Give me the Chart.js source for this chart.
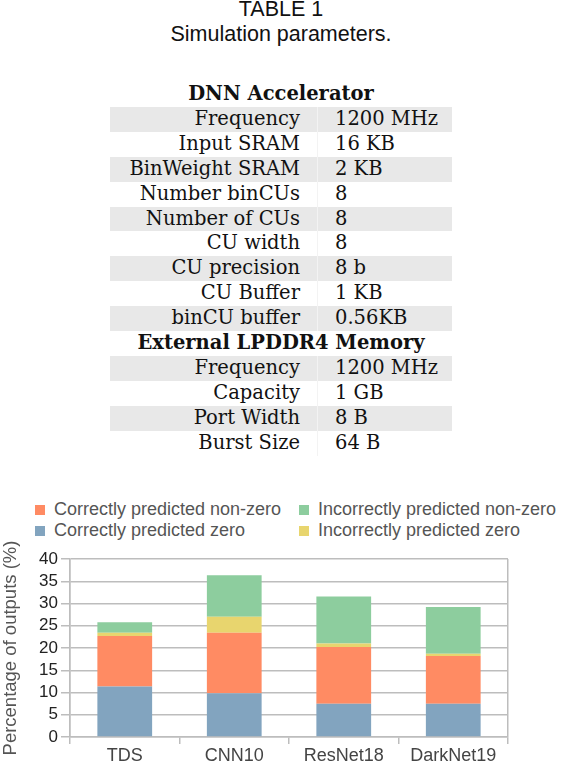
<!DOCTYPE html>
<html>
<head>
<meta charset="utf-8">
<script src="https://cdn.jsdelivr.net/npm/chart.js@4.4.0/dist/chart.umd.min.js"></script>
<style>
  body { margin: 0; width: 562px; height: 762px; position: relative; background: #fff; overflow: hidden; }
  #titulo { position: absolute; top: -3px; left: 0; width: 562px; text-align: center;
    font: 21.5px/25px "Liberation Sans", Arial, sans-serif; color: #111; }
  #tabla { position: absolute; top: 82px; left: 110px; width: 342px; border-collapse: collapse;
    font-family: "DejaVu Serif", serif; font-size: 19.5px; color: #111; }
  #tabla td { height: 24.9px; padding: 0; line-height: 24.9px; white-space: nowrap; }
  #tabla td.nom { text-align: right; padding-right: 17px; width: 190px; border-right: 1px solid #f3f3f3; }
  #tabla td.val { text-align: left; padding-left: 17px; }
  #tabla tr.gris td { background: #e8e8e8; }
  #tabla td.cab { text-align: center; font-weight: bold; }
  #leyenda { position: absolute; top: 499px; left: 35px; width: 527px;
    display: grid; grid-template-columns: 264px 263px;
    font: 18px/21px "Liberation Sans", Arial, sans-serif; color: #555; }
  #leyenda span.caja { display: inline-block; width: 10px; height: 10px; margin-right: 9px; }
  #cont { position: absolute; top: 525px; left: 0; width: 562px; height: 237px; }
</style>
</head>
<body>
<div id="titulo">TABLE 1<br>Simulation parameters.</div>
<table id="tabla"></table>
<div id="leyenda"></div>
<div id="cont"><canvas id="myChart"></canvas></div>
<script>
// TABLA DE PARAMETROS
const seccionAcelerador = "DNN Accelerator"
const nombresAcelerador = ["Frequency", "Input SRAM", "BinWeight SRAM", "Number binCUs", "Number of CUs", "CU width", "CU precision", "CU Buffer", "binCU buffer"]
const valoresAcelerador = ["1200 MHz", "16 KB", "2 KB", "8", "8", "8", "8 b", "1 KB", "0.56KB"]
const seccionMemoria = "External LPDDR4 Memory"
const nombresMemoria = ["Frequency", "Capacity", "Port Width", "Burst Size"]
const valoresMemoria = ["1200 MHz", "1 GB", "8 B", "64 B"]

// DATOS DEL GRAFICO
const redes = ["TDS", "CNN10", "ResNet18", "DarkNet19"]
const ceroCorrecto = [11.35, 9.85, 7.45, 7.5]
const noCeroCorrecto = [11.35, 13.6, 12.75, 10.7]
const ceroIncorrecto = [0.7, 3.6, 0.8, 0.5]
const noCeroIncorrecto = [2.4, 9.3, 10.6, 10.5]
const ticksY = [0, 5, 10, 15, 20, 25, 30, 35, 40]

const tabla = document.querySelector('#tabla')
let fila = 0

const agregarCabecera = (texto) => {
    const tr = document.createElement("tr")
    if (fila % 2 == 1) tr.setAttribute("class", "gris")
    tr.innerHTML = `<td class="cab" colspan="2">${texto}</td>`
    tabla.appendChild(tr)
    fila++
}

const agregarFilas = (nombres, valores) => {
    nombres.forEach((nombre, i) => {
        const tr = document.createElement("tr")
        if (fila % 2 == 1) tr.setAttribute("class", "gris")
        tr.innerHTML = `<td class="nom">${nombre}</td><td class="val">${valores[i]}</td>`
        tabla.appendChild(tr)
        fila++
    })
}

agregarCabecera(seccionAcelerador)
agregarFilas(nombresAcelerador, valoresAcelerador)
agregarCabecera(seccionMemoria)
agregarFilas(nombresMemoria, valoresMemoria)

const gris = '#bdbdbd'
const familia = '"Liberation Sans", Arial, sans-serif'

let ctx = document.getElementById('myChart').getContext('2d')
let myChart = new Chart(ctx, {
    type: 'bar',
    data: {
        labels: redes,
        datasets: [
            { label: 'Correctly predicted zero', data: ceroCorrecto, backgroundColor: '#82a4bf' },
            { label: 'Correctly predicted non-zero', data: noCeroCorrecto, backgroundColor: '#ff8b63' },
            { label: 'Incorrectly predicted zero', data: ceroIncorrecto, backgroundColor: '#e8d56e' },
            { label: 'Incorrectly predicted non-zero', data: noCeroIncorrecto, backgroundColor: '#8dcd9e' }
        ]
    },
    options: {
        responsive: true,
        maintainAspectRatio: false,
        animation: false,
        layout: { padding: { top: 34, right: 54, left: 0, bottom: 0 } },
        plugins: { legend: { display: false }, tooltip: { enabled: false } },
        datasets: { bar: { barPercentage: 0.5, categoryPercentage: 1 } },
        scales: {
            x: {
                stacked: true,
                grid: {
                    offset: true,
                    drawOnChartArea: true,
                    color: (c) => (c.type == 'scale' || c.index == 0) ? gris : 'transparent',
                    tickColor: gris,
                    tickLength: 7,
                    lineWidth: 1.5
                },
                border: { color: gris, width: 1.5 },
                ticks: { color: '#444', font: { family: familia, size: 18 }, padding: 1, autoSkip: false, maxRotation: 0 },
                afterFit: (escala) => { escala.height = 25 }
            },
            y: {
                stacked: true,
                min: 0,
                max: 40,
                afterBuildTicks: (escala) => { escala.ticks = ticksY.map((v) => ({ value: v })) },
                grid: { color: gris, tickLength: 9, lineWidth: 1.5 },
                border: { color: gris, width: 1.5 },
                ticks: { color: '#222', font: { family: familia, size: 17 }, padding: 3, autoSkip: false },
                title: {
                    display: true,
                    text: 'Percentage of outputs (%)',
                    color: '#555',
                    font: { family: familia, size: 18.5 },
                    padding: { top: 0, bottom: 0 }
                },
                afterFit: (escala) => { escala.width = 70 }
            }
        }
    }
})

// LEYENDA (dos columnas como en la figura)
const leyenda = document.querySelector('#leyenda')
const ordenLeyenda = [1, 3, 0, 2]
ordenLeyenda.forEach((i) => {
    const ds = myChart.data.datasets[i]
    const nodo = document.createElement("div")
    nodo.innerHTML = `<span class="caja" style="background:${ds.backgroundColor}"></span>${ds.label}`
    leyenda.appendChild(nodo)
})
</script>
</body>
</html>
